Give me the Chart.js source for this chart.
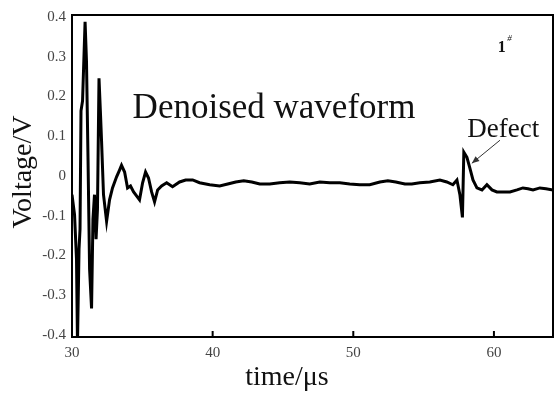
<!DOCTYPE html>
<html>
<head>
<meta charset="utf-8">
<script src="https://cdn.jsdelivr.net/npm/chart.js@4.4.1/dist/chart.umd.min.js"></script>
<style>
  html, body { margin: 0; padding: 0; background: #fff; }
  #wrap { width: 555px; height: 396px; }
</style>
</head>
<body>
<div id="wrap"><canvas id="grafica" width="555" height="396"></canvas></div>
<script>
// datos (tiempo en us, voltaje en V)
const timeUs = [
  30.00, 30.18, 30.32, 30.39, 30.50, 30.57, 30.64, 30.75, 30.93, 31.03,
  31.14, 31.25, 31.39, 31.49, 31.60, 31.71, 31.81, 31.92, 32.03, 32.10,
  32.24, 32.46, 32.67, 32.88, 33.17, 33.38, 33.52, 33.74, 33.95, 34.16,
  34.38, 34.59, 34.80, 35.02, 35.23, 35.44, 35.66, 35.87, 36.09, 36.37,
  36.73, 37.15, 37.65, 38.08, 38.58, 39.07, 39.79, 40.50, 41.07, 41.64,
  42.21, 42.78, 43.35, 44.06, 44.77, 45.48, 46.19, 46.90, 47.62, 48.33,
  49.04, 49.75, 50.46, 51.17, 51.89, 52.46, 53.02, 53.67, 54.16, 54.73,
  55.44, 56.16, 56.65, 57.08, 57.37, 57.58, 57.76, 57.86, 58.08, 58.29,
  58.51, 58.79, 59.15, 59.50, 59.86, 60.21, 60.57, 61.14, 61.64, 62.06,
  62.42, 62.78, 63.27, 63.70, 64.20
];
const voltageV = [
  -0.047, -0.097, -0.209, -0.42, -0.184, -0.134, 0.164, 0.189, 0.388, 0.288,
  0.040, -0.234, -0.333, -0.109, -0.047, -0.159, -0.084, 0.246, 0.152, 0.089,
  -0.047, -0.114, -0.060, -0.030, -0.002, 0.015, 0.027, 0.010, -0.030, -0.025,
  -0.040, -0.050, -0.060, -0.017, 0.010, -0.005, -0.040, -0.065, -0.035, -0.025,
  -0.017, -0.027, -0.015, -0.010, -0.010, -0.017, -0.022, -0.025, -0.020, -0.015,
  -0.012, -0.015, -0.020, -0.020, -0.017, -0.015, -0.017, -0.020, -0.015, -0.017,
  -0.017, -0.020, -0.022, -0.022, -0.015, -0.012, -0.015, -0.020, -0.020, -0.017,
  -0.015, -0.010, -0.015, -0.022, -0.010, -0.047, -0.104, 0.060, 0.047, 0.020,
  -0.010, -0.030, -0.035, -0.022, -0.035, -0.040, -0.040, -0.040, -0.035, -0.030,
  -0.032, -0.035, -0.030, -0.032, -0.035
];
const xTicks = [30, 40, 50, 60];
const yTicks = [-0.4, -0.3, -0.2, -0.1, 0, 0.1, 0.2, 0.3, 0.4];

const serif = "'Liberation Serif', 'DejaVu Serif', serif";

// marco, marcas internas y textos
const adornos = {
  id: 'adornos',
  afterDraw(chart) {
    const { ctx, chartArea: a, scales: { x, y } } = chart;
    ctx.save();
    ctx.strokeStyle = '#000';
    ctx.lineWidth = 2;
    ctx.strokeRect(a.left, a.top, a.right - a.left, a.bottom - a.top);

    // marcas en el eje x hacia dentro
    xTicks.slice(1).forEach(v => {
      const px = x.getPixelForValue(v);
      ctx.beginPath();
      ctx.moveTo(px, a.bottom);
      ctx.lineTo(px, a.bottom - 6);
      ctx.stroke();
    });

    ctx.fillStyle = '#111';
    ctx.textBaseline = 'alphabetic';

    // titulo interno
    ctx.font = '35px ' + serif;
    ctx.fillText('Denoised waveform', x.getPixelForValue(34.31), y.getPixelForValue(0.147));

    // etiqueta 1#
    ctx.font = 'bold 16px ' + serif;
    ctx.fillText('1', x.getPixelForValue(60.28), y.getPixelForValue(0.313));
    ctx.font = 'italic 9px ' + serif;
    ctx.fillText('#', x.getPixelForValue(60.95), y.getPixelForValue(0.34));

    // defecto + flecha
    ctx.font = '27px ' + serif;
    ctx.fillText('Defect', x.getPixelForValue(58.1), y.getPixelForValue(0.097));
    const x1 = x.getPixelForValue(60.43), y1 = y.getPixelForValue(0.09);
    const x2 = x.getPixelForValue(58.43), y2 = y.getPixelForValue(0.032);
    ctx.strokeStyle = '#333';
    ctx.lineWidth = 1;
    ctx.beginPath();
    ctx.moveTo(x1, y1);
    ctx.lineTo(x2, y2);
    ctx.stroke();
    const ang = Math.atan2(y2 - y1, x2 - x1);
    ctx.beginPath();
    ctx.moveTo(x2, y2);
    ctx.lineTo(x2 - 8 * Math.cos(ang - 0.4), y2 - 8 * Math.sin(ang - 0.4));
    ctx.lineTo(x2 - 8 * Math.cos(ang + 0.4), y2 - 8 * Math.sin(ang + 0.4));
    ctx.closePath();
    ctx.fillStyle = '#333';
    ctx.fill();

    // titulos de ejes
    ctx.fillStyle = '#111';
    ctx.font = '28px ' + serif;
    ctx.textAlign = 'center';
    ctx.fillText('time/\u03bcs', 287, 385);
    ctx.translate(31, 172);
    ctx.rotate(-Math.PI / 2);
    ctx.fillText('Voltage/V', 0, 0);
    ctx.restore();
  }
};

new Chart(document.getElementById('grafica').getContext('2d'), {
  type: 'line',
  data: {
    datasets: [{
      data: timeUs.map((t, i) => ({ x: t, y: voltageV[i] })),
      borderColor: '#000',
      borderWidth: 3,
      pointRadius: 0,
      tension: 0,
      fill: false
    }]
  },
  options: {
    responsive: false,
    animation: false,
    devicePixelRatio: 1,
    layout: { padding: { top: 13, right: 2, left: 0, bottom: 0 } },
    plugins: { legend: { display: false }, tooltip: { enabled: false } },
    scales: {
      x: {
        type: 'linear',
        min: 30,
        max: 64.2,
        afterBuildTicks: s => { s.ticks = xTicks.map(v => ({ value: v })); },
        afterFit: s => { s.height = 59; },
        grid: { display: false, drawTicks: false },
        border: { display: false },
        ticks: {
          padding: 7,
          color: '#444',
          font: { family: serif, size: 15 },
          maxRotation: 0,
          callback: v => String(v)
        }
      },
      y: {
        type: 'linear',
        min: -0.405,
        max: 0.405,
        afterBuildTicks: s => { s.ticks = yTicks.map(v => ({ value: v })); },
        afterFit: s => { s.width = 72; },
        grid: { display: false, drawTicks: false },
        border: { display: false },
        ticks: {
          padding: 6,
          color: '#444',
          font: { family: serif, size: 15 },
          callback: v => (v === 0 ? '0' : v.toFixed(1))
        }
      }
    }
  },
  plugins: [adornos]
});
</script>
</body>
</html>
